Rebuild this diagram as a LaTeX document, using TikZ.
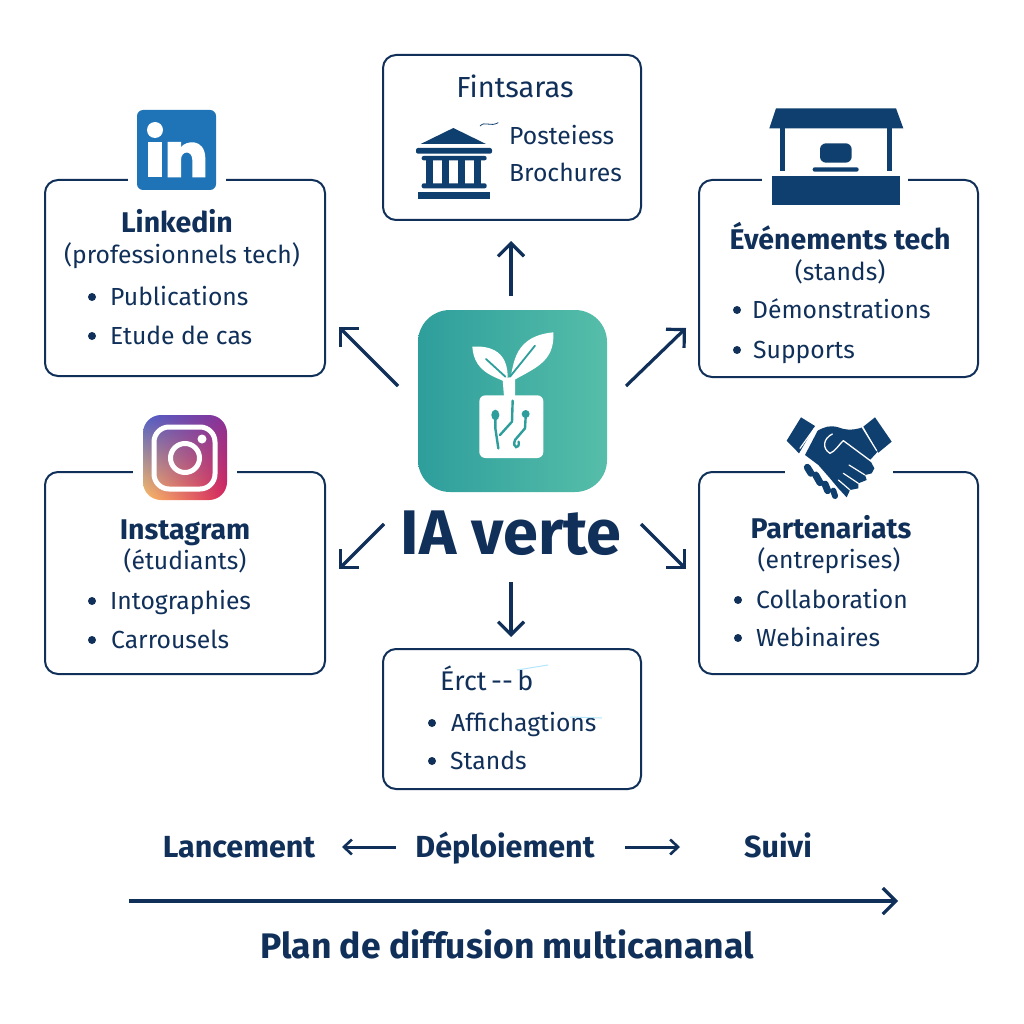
\documentclass[tikz,border=0pt]{standalone}
\usepackage{fontspec}
\setmainfont{Fira Sans}
\usetikzlibrary{arrows.meta,shadings}
\definecolor{navy}{HTML}{10305A}
\definecolor{iconblue}{HTML}{0F3F6E}
\definecolor{linkblue}{HTML}{1F74B8}
\definecolor{tealA}{HTML}{2E9E9C}
\definecolor{tealB}{HTML}{56BEA9}
\definecolor{igA}{HTML}{4F60C8}
\definecolor{igB}{HTML}{8A3096}
\definecolor{igC}{HTML}{FDBE64}
\definecolor{igD}{HTML}{D8235A}
\tikzset{
  card/.style={draw=navy, line width=2pt, fill=white, rounded corners=13pt, inner sep=0pt},
  heading/.style={text=navy, font=\fontsize{28.5}{30}\selectfont\bfseries, inner sep=0pt, text height=23pt, text depth=5pt},
  subline/.style={text=navy, font=\fontsize{24.7}{28}\selectfont, inner sep=0pt, text height=21pt, text depth=4pt},
  itemline/.style={subline, anchor=west},
  dotmark/.style={circle, fill=navy, inner sep=0pt, minimum size=8pt},
  phase/.style={text=navy, font=\fontsize{30.5}{32}\selectfont\bfseries, inner sep=0pt, text height=25pt, text depth=5pt},
  arrowline/.style={draw=navy, line width=3.2pt, -{Straight Barb[length=13pt,width=26pt,line width=3.2pt]}},
  thinarrow/.style={draw=navy, line width=3pt, -{Straight Barb[length=8pt,width=15pt,line width=2.6pt]}},
}
\begin{document}
\begin{tikzpicture}[x=1pt, y=-1pt]
    \useasboundingbox (0,0) rectangle (1024,1024);
    \fill[white] (0,0) rectangle (1024,1024);

    % Cards
    \node (linkedin) at (185,278) [card, minimum width=280pt, minimum height=196pt] {};
    \node (instagram) at (185,573) [card, minimum width=280pt, minimum height=202pt] {};
    \node (fintsaras) at (512,137.5) [card, minimum width=258pt, minimum height=165pt] {};
    \node (events) at (838.5,278.5) [card, minimum width=279pt, minimum height=197pt] {};
    \node (partners) at (838.5,573) [card, minimum width=279pt, minimum height=202pt] {};
    \node (ecrit) at (512,719) [card, minimum width=258pt, minimum height=140pt] {};

    % White gaps in the card tops
    \fill[white] (128,170) rectangle (226,192);
    \fill[white] (133,462) rectangle (237,505);
    \fill[white] (762,170) rectangle (908,210);
    \fill[white] (785,462) rectangle (893,500);

    % Central icon
    \node (hub) at (512.5,401) [rounded corners=32pt, left color=tealA, right color=tealB, minimum width=189pt, minimum height=182pt, inner sep=0pt] {};
    \begin{scope}[shift={(400,300)}, scale=1/3]
        \fill[white] (322,250) .. controls (300,232) and (222,225) .. (217,140)
            .. controls (290,135) and (330,170) .. (322,250) -- cycle;
        \fill[white] (325,250) .. controls (345,215) and (325,110) .. (460,97)
            .. controls (465,190) and (400,205) .. (325,250) -- cycle;
        \fill[white] (308,240) -- (345,225) -- (345,290) -- (312,290) -- cycle;
        \fill[white, rounded corners=6pt] (238,286) rectangle (430,474);
        \draw[tealA, line width=1.8pt, line cap=round] (258,177) -- (316,230);
        \draw[tealA, line width=1.8pt, line cap=round] (405,137) -- (330,230);
        \draw[tealA, line width=2.4pt, line cap=round] (338,302) -- (336,365) -- (300,405);
        \draw[tealA, line width=2.4pt, line cap=round] (286,355) -- (286,385) -- (295,445);
        \draw[tealA, line width=2.4pt, line cap=round] (377,350) -- (375,385) -- (345,420)
            .. controls (335,445) and (360,450) .. (356,425);
        \fill[tealA] (286,345) ellipse (12 and 16);
        \fill[tealA] (377,342) circle (12);
    \end{scope}
    \node (title) at (511,533) [text=navy, font=\fontsize{63}{66}\selectfont\bfseries, inner sep=0pt, text height=47pt, text depth=4pt] {IA verte};

    % LinkedIn logo
    \node (inlogo) at (176.5,150) [fill=linkblue, rounded corners=6pt, minimum width=79pt, minimum height=80pt, inner sep=0pt] {};
    \begin{scope}[shift={(125,100)}, scale=1/3]
        \fill[white] (90,90) circle (24);
        \fill[white] (70,126) rectangle (111,232);
        \fill[white] (128,126) -- (168,126) -- (168,142)
            .. controls (180,122) and (240,112) .. (241,175) -- (241,232) -- (202,232) -- (202,180)
            .. controls (202,150) and (168,150) .. (168,180) -- (168,232) -- (128,232) -- cycle;
    \end{scope}

    % Instagram logo
    \shade[rounded corners=18pt, upper left=igA, upper right=igB, lower left=igC, lower right=igD] (143,415) rectangle (227,500);
    \draw[white, line width=5pt, rounded corners=15pt] (154,427) rectangle (215,489);
    \draw[white, line width=5pt] (185,458) circle (14.5);
    \fill[white] (202,439) circle (4.5);
    \node (iglogo) at (185,457.5) [minimum size=84pt, inner sep=0pt] {};

    % Market stall
    \begin{scope}[shift={(760,100)}, scale=1/3]
        \fill[iconblue] (48,25) -- (408,25) -- (430,85) -- (28,85) -- cycle;
        \fill[iconblue] (61,85) rectangle (76,212);
        \fill[iconblue] (381,85) rectangle (396,212);
        \fill[iconblue, rounded corners=6pt] (180,130) rectangle (275,188);
        \fill[iconblue, rounded corners=2pt] (158,202) rectangle (296,215);
        \fill[iconblue] (35,228) rectangle (420,315);
    \end{scope}

    % Handshake
    \begin{scope}[shift={(775,410)}, scale=1/3]
        \fill[iconblue] (78,22) -- (120,48) -- (72,130) -- (35,92) -- cycle;
        \fill[iconblue] (300,22) -- (350,95) -- (310,128) -- (265,50) -- cycle;
        \fill[iconblue] (128,62) .. controls (150,50) and (165,45) .. (190,52)
            .. controls (215,62) and (240,60) .. (262,52) -- (308,125) -- (285,150)
            -- (298,175) -- (290,190) -- (270,195) -- (275,210) -- (250,220)
            -- (250,235) -- (225,240) -- (215,262) -- (190,235) -- (165,205)
            -- (130,165) -- (90,135) -- cycle;
        \draw[white, line width=1.3pt, line cap=round, line join=round] (172,72) .. controls (145,85) and (140,115) .. (165,130)
            .. controls (180,125) and (195,100) .. (205,92) -- (290,155);
        \draw[white, line width=1.2pt, line cap=round] (118,55) -- (75,115);
        \draw[white, line width=1.2pt, line cap=round] (262,52) -- (305,122);
        \draw[white, line width=1.2pt, line cap=round] (270,195) -- (222,165);
        \draw[white, line width=1.2pt, line cap=round] (250,220) -- (205,190);
        \draw[white, line width=1.2pt, line cap=round] (225,240) -- (190,210);
        \draw[white, line width=8pt, line cap=round] (70,160) -- (215,285);
        \draw[iconblue, line width=7pt, line cap=round] (97,172) -- (108,190);
        \draw[iconblue, line width=7pt, line cap=round] (122,195) -- (135,218);
        \draw[iconblue, line width=7pt, line cap=round] (150,222) -- (158,242);
        \draw[iconblue, line width=6pt, line cap=round] (175,242) -- (180,258);
    \end{scope}

    % Temple
    \begin{scope}[shift={(380,50)}, scale=1/3]
        \fill[iconblue] (220,234) -- (318,282) -- (122,282) -- cycle;
        \fill[iconblue, rounded corners=2pt] (108,294) rectangle (336,311);
        \fill[iconblue, rounded corners=2pt] (125,318) rectangle (320,331);
        \fill[iconblue] (138,325) rectangle (160,405);
        \fill[iconblue] (186,325) rectangle (208,405);
        \fill[iconblue] (234,325) rectangle (256,405);
        \fill[iconblue] (282,325) rectangle (304,405);
        \fill[iconblue, rounded corners=2pt] (125,400) rectangle (320,415);
        \fill[iconblue] (113,427) rectangle (331,446);
        \draw[iconblue, line width=.8pt] (300,228) .. controls (315,212) and (330,232) .. (355,218);
    \end{scope}

    % Texts of the cards
    \node (linkedinT) at (177,224) [heading] {Linkedin};
    \node (linkedinS) at (182,255) [subline] {(professionnels tech)};
    \node (linkedinD1) at (92,297) [dotmark] {};
    \node (linkedinI1) at (110,297) [itemline] {Publications};
    \node (linkedinD2) at (92,336) [dotmark] {};
    \node (linkedinI2) at (110,336) [itemline] {Etude de cas};

    \node (instagramT) at (185,530) [heading] {Instagram};
    \node (instagramS) at (185,561) [subline] {(étudiants)};
    \node (instagramD1) at (92,601) [dotmark] {};
    \node (instagramI1) at (110,601) [itemline] {Intographies};
    \node (instagramD2) at (92,640) [dotmark] {};
    \node (instagramI2) at (111,640) [itemline] {Carrousels};

    \node (fintsarasT) at (515,89) [subline, font=\fontsize{29}{30}\selectfont] {Fintsaras};
    \node (fintsarasI1) at (509,136) [itemline] {Posteiess};
    \node (fintsarasI2) at (509,173) [itemline] {Brochures};

    \node (eventsT) at (840,240) [heading] {Événements tech};
    \node (eventsS) at (840,272) [subline] {(stands)};
    \node (eventsD1) at (737,310) [dotmark] {};
    \node (eventsI1) at (752,310) [itemline] {Démonstrations};
    \node (eventsD2) at (737,350) [dotmark] {};
    \node (eventsI2) at (753,350) [itemline] {Supports};

    \node (partnersT) at (831,529) [heading] {Partenariats};
    \node (partnersS) at (829,560) [subline] {(entreprises)};
    \node (partnersD1) at (738,600) [dotmark] {};
    \node (partnersI1) at (756,600) [itemline] {Collaboration};
    \node (partnersD2) at (738,638) [dotmark] {};
    \node (partnersI2) at (756,638) [itemline] {Webinaires};

    \node (ecritT) at (440,682) [itemline, font=\fontsize{27}{30}\selectfont] {Érct\,{-}{-}\,b};
    \node (ecritD1) at (432,723) [dotmark] {};
    \node (ecritI1) at (451,723) [itemline] {Affichagtions};
    \node (ecritD2) at (432,761) [dotmark] {};
    \node (ecritI2) at (450,761) [itemline] {Stands};
    \draw[cyan!30, line width=1pt] (517,670) -- (548,665);
    \draw[cyan!30, line width=1pt] (570,717) -- (602,718);

    % Arrows around the centre
    \coordinate (upS) at (511,296);
    \coordinate (upE) at (511,241);
    \coordinate (ulS) at (398,386);
    \coordinate (ulE) at (339,327);
    \coordinate (urS) at (626,386);
    \coordinate (urE) at (686,328);
    \coordinate (llS) at (384,524);
    \coordinate (llE) at (339,569);
    \coordinate (lrS) at (641,524);
    \coordinate (lrE) at (686,569);
    \coordinate (dnS) at (511,582);
    \coordinate (dnE) at (511,637);
    \draw[arrowline] (upS) -- (upE);
    \draw[arrowline] (ulS) -- (ulE);
    \draw[arrowline] (urS) -- (urE);
    \draw[arrowline] (llS) -- (llE);
    \draw[arrowline] (lrS) -- (lrE);
    \draw[arrowline] (dnS) -- (dnE);

    % Timeline
    \node (launch) at (239,847) [phase] {Lancement};
    \node (deploy) at (505,847) [phase] {Déploiement};
    \node (follow) at (778,847) [phase] {Suivi};
    \coordinate (backS) at (396,847);
    \coordinate (backE) at (342,847);
    \coordinate (forwS) at (625,847);
    \coordinate (forwE) at (680,847);
    \draw[thinarrow] (backS) -- (backE);
    \draw[thinarrow] (forwS) -- (forwE);
    \coordinate (axisS) at (129,901);
    \coordinate (axisE) at (898,901);
    \draw[arrowline] (axisS) -- (axisE);
    \node (plan) at (507,946) [text=navy, font=\fontsize{35.5}{38}\selectfont\bfseries, inner sep=0pt, text height=30pt, text depth=5pt] {Plan de diffusion multicananal};
\end{tikzpicture}
\end{document}
